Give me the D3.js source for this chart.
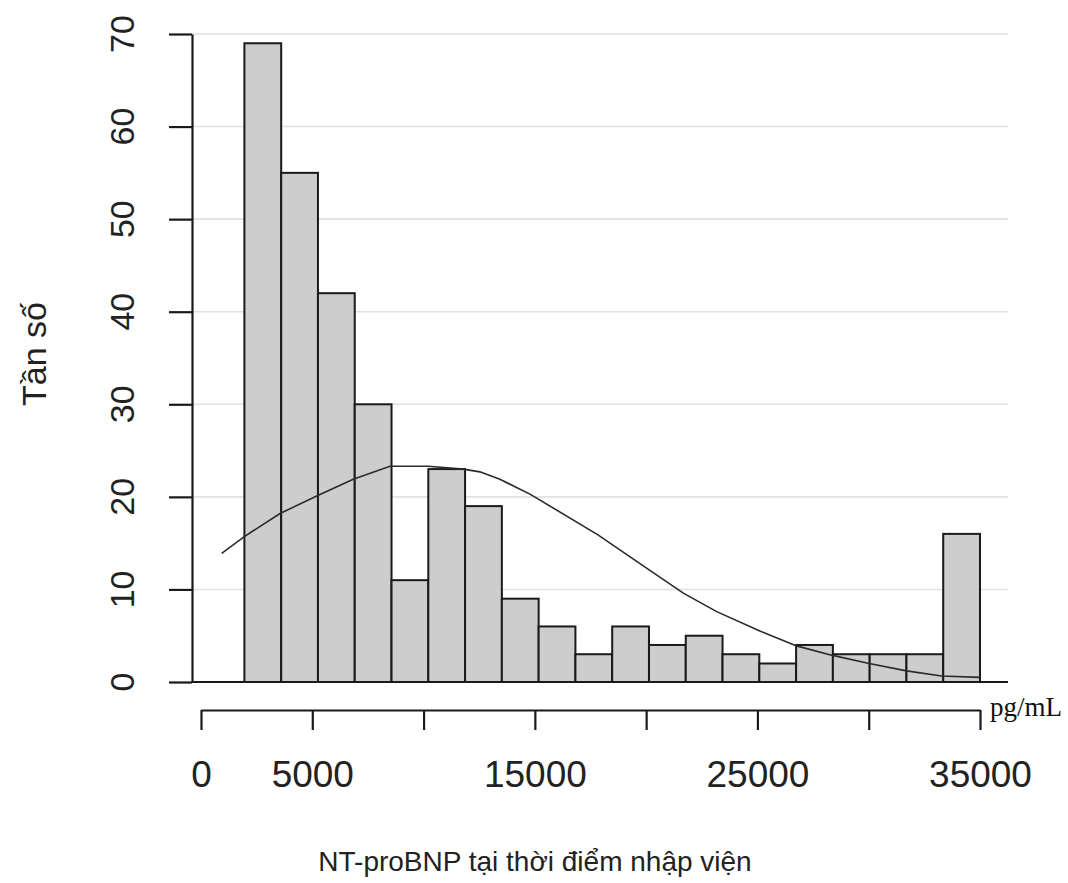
<!DOCTYPE html>
<html>
<head>
<meta charset="utf-8">
<script src="https://cdn.jsdelivr.net/npm/d3@7"></script>
<style>
  html, body { margin: 0; padding: 0; background: #fff; }
  svg { display: block; }
</style>
</head>
<body>
<svg id="chart"></svg>
<script>
/*
Data
*/

// histogram counts, one per bin
const counts = [69, 55, 42, 30, 11, 23, 19, 9, 6, 3, 6, 4, 5, 3, 2, 4, 3, 3, 3, 16];

// bin edges (pg/mL)
const binStart = 1950;
const binEnd   = 35000;

// fitted curve
const curveX = [930, 1945, 3550, 5200, 6840, 8490, 10210, 11780, 12530, 13430, 14780,
                17835, 20020, 21670, 23170, 25110, 26760, 28330, 30020, 31700, 33275, 35000];
const curveY = [13.9, 15.7, 18.2, 20.1, 21.9, 23.3, 23.3, 23.0, 22.7, 21.9, 20.3,
                15.9, 12.3, 9.6, 7.6, 5.5, 3.9, 2.9, 2.0, 1.2, 0.65, 0.5];

// ticks
const yTicks      = [0, 10, 20, 30, 40, 50, 60, 70];
const xTicks      = [0, 5000, 10000, 15000, 20000, 25000, 30000, 35000];
const xTickLabels = ["0", "5000", "", "15000", "", "25000", "", "35000"];

const xTitle = "NT-proBNP tại thời điểm nhập viện";
const yTitle = "Tần số";
const unit   = "pg/mL";

/*
Prototype
*/

let Histogram = function (config) {
  return this.__init__(config);
};

Histogram.prototype = {

  __init__ : function (config) {
    const self = this;

    self.id     = config.id;
    self.width  = config.width;
    self.height = config.height;

    self.svg = d3.select(self.id)
      .attr("width", self.width)
      .attr("height", self.height)
      .attr("viewBox", "0 0 " + self.width + " " + self.height)
      .style("font-family", "'Liberation Sans', Arial, sans-serif");

    self.x = d3.scaleLinear().domain([0, 35000]).range([201, 980]);
    self.y = d3.scaleLinear().domain([0, 70]).range([682, 34]);

    const step  = (binEnd - binStart) / counts.length;
    self.bins = counts.map((c, i) => ({ x0: binStart + i * step, x1: binStart + (i + 1) * step, n: c }));

    self.grid().bars().curve().axes().titles();
    return self;
  },

  grid : function () {
    const self = this;
    self.svg.append("g")
      .classed("grid", true)
      .selectAll("line")
      .data(yTicks.filter(d => d > 0))
      .enter()
      .append("line")
      .attr("x1", 192)
      .attr("x2", 1008)
      .attr("y1", d => self.y(d))
      .attr("y2", d => self.y(d))
      .attr("stroke", "#e1e1e1")
      .attr("stroke-width", 1.6);
    return self;
  },

  bars : function () {
    const self = this;
    self.svg.append("g")
      .classed("bars", true)
      .selectAll("rect")
      .data(self.bins)
      .enter()
      .append("rect")
      .attr("x", d => self.x(d.x0))
      .attr("y", d => self.y(d.n))
      .attr("width", d => self.x(d.x1) - self.x(d.x0))
      .attr("height", d => self.y(0) - self.y(d.n))
      .attr("fill", "#cdcdcd")
      .attr("stroke", "#1a1a1a")
      .attr("stroke-width", 2);

    // baseline
    self.svg.append("line")
      .attr("x1", 192)
      .attr("x2", 1008)
      .attr("y1", self.y(0))
      .attr("y2", self.y(0))
      .attr("stroke", "#1a1a1a")
      .attr("stroke-width", 2.2);
    return self;
  },

  curve : function () {
    const self = this;
    const line = d3.line()
      .x((d, i) => self.x(curveX[i]))
      .y(d => self.y(d));
    self.svg.append("path")
      .datum(curveY)
      .attr("d", line)
      .attr("fill", "none")
      .attr("stroke", "#2a2a2a")
      .attr("stroke-width", 1.6);
    return self;
  },

  axes : function () {
    const self = this;

    // y axis, R style rotated labels
    const yAxis = self.svg.append("g")
      .attr("transform", "translate(192,0)")
      .call(d3.axisLeft(self.y).tickValues(yTicks).tickSize(23).tickSizeOuter(0).tickFormat(""));
    yAxis.selectAll("path, line").attr("stroke", "#1a1a1a").attr("stroke-width", 2.2);

    self.svg.append("g")
      .selectAll("text")
      .data(yTicks)
      .enter()
      .append("text")
      .attr("transform", d => "translate(134," + self.y(d) + ") rotate(-90)")
      .attr("text-anchor", "middle")
      .attr("font-size", 34)
      .attr("fill", "#222")
      .text(d => d);

    // x axis, drawn below the plot
    const xAxis = self.svg.append("g")
      .attr("transform", "translate(0,710)")
      .call(d3.axisBottom(self.x).tickValues(xTicks).tickSize(20).tickSizeOuter(0)
        .tickFormat((d, i) => xTickLabels[i]));
    xAxis.selectAll("path, line").attr("stroke", "#1a1a1a").attr("stroke-width", 2.2);
    xAxis.selectAll("text")
      .attr("y", 77)
      .attr("dy", 0)
      .attr("font-size", 37)
      .attr("font-family", "'Liberation Sans', Arial, sans-serif")
      .attr("fill", "#222");

    self.svg.append("text")
      .attr("x", 990)
      .attr("y", 716)
      .attr("font-family", "'Liberation Serif', 'Times New Roman', serif")
      .attr("font-size", 27)
      .attr("fill", "#111")
      .text(unit);
    return self;
  },

  titles : function () {
    const self = this;
    self.svg.append("text")
      .attr("x", 535)
      .attr("y", 871)
      .attr("text-anchor", "middle")
      .attr("font-size", 28)
      .attr("fill", "#222")
      .text(xTitle);

    self.svg.append("text")
      .attr("transform", "translate(46,354) rotate(-90)")
      .attr("text-anchor", "middle")
      .attr("font-size", 34)
      .attr("fill", "#222")
      .text(yTitle);
    return self;
  }

};

new Histogram({ id: "#chart", width: 1068, height: 883 });
</script>
</body>
</html>
